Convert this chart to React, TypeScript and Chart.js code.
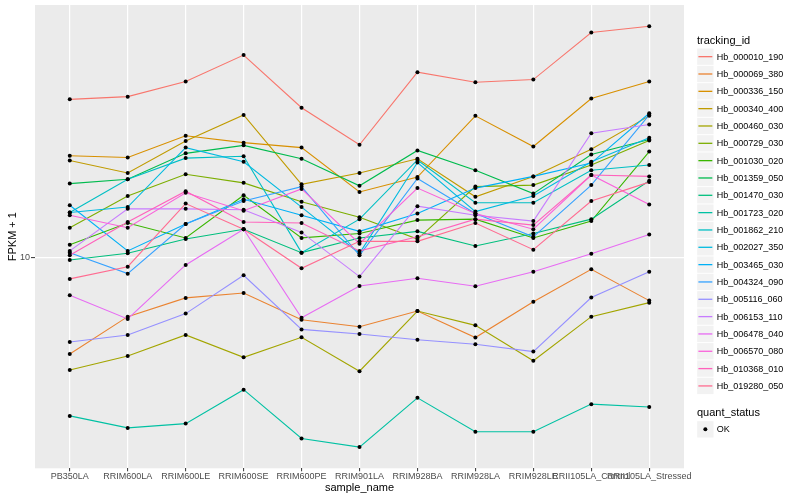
import React, { useEffect, useRef } from "react";
import { Chart, registerables } from "chart.js";

Chart.register(...registerables);

const categories = [
  "PB350LA", "RRIM600LA", "RRIM600LE", "RRIM600SE", "RRIM600PE", "RRIM901LA",
  "RRIM928BA", "RRIM928LA", "RRIM928LE", "RRII105LA_Control", "RRII105LA_Stressed",
];

const seriesNames = [
  "Hb_000010_190", "Hb_000069_380", "Hb_000336_150", "Hb_000340_400", "Hb_000460_030",
  "Hb_000729_030", "Hb_001030_020", "Hb_001359_050", "Hb_001470_030", "Hb_001723_020",
  "Hb_001862_210", "Hb_002027_350", "Hb_003465_030", "Hb_004324_090", "Hb_005116_060",
  "Hb_006153_110", "Hb_006478_040", "Hb_006570_080", "Hb_010368_010", "Hb_019280_050",
];

const seriesColors = [
  "#F8766D", "#EA8331", "#D89000", "#C09B00", "#A3A500",
  "#7CAE00", "#39B600", "#00BB4E", "#00BF7D", "#00C1A3",
  "#00BFC4", "#00BAE0", "#00B0F6", "#35A2FF", "#9590FF",
  "#C77CFF", "#E76BF3", "#FA62DB", "#FF62BC", "#FF6C91",
];

const s000010_190 = [33.6, 34.3, 38.5, 47.2, 31.5, 23.7, 41.4, 38.3, 39.1, 56.1, 58.9];
const s000069_380 = [4.76, 6.34, 7.32, 7.6, 6.19, 5.87, 6.62, 5.4, 7.11, 9.12, 7.17];
const s000336_150 = [21.8, 21.5, 25.4, 24.1, 23.2, 16.5, 18.5, 29.6, 23.4, 33.8, 38.5];
const s000340_400 = [21.0, 19.1, 24.4, 29.8, 17.5, 19.1, 21.3, 15.9, 18.6, 22.9, 29.6];
const s000460_030 = [4.21, 4.69, 5.51, 4.64, 5.41, 4.17, 6.62, 5.93, 4.52, 6.34, 7.06];
const s000729_030 = [12.55, 16.0, 18.9, 17.7, 15.3, 13.6, 11.5, 17.2, 17.4, 20.3, 24.5];
const s001030_020 = [11.0, 13.0, 11.6, 16.1, 11.6, 12.0, 13.3, 13.4, 11.6, 13.2, 22.5];
const s001359_050 = [17.6, 18.2, 22.2, 23.6, 21.3, 17.3, 22.7, 19.5, 16.3, 22.0, 24.7];
const s001470_030 = [9.79, 10.31, 11.5, 12.4, 10.36, 11.6, 12.2, 10.9, 12.0, 13.4, 18.0];
const s001723_020 = [2.96, 2.7, 2.79, 3.62, 2.49, 2.33, 3.4, 2.62, 2.62, 3.24, 3.17];
const s001862_210 = [14.1, 18.2, 21.4, 21.7, 10.36, 13.4, 21.1, 15.2, 15.2, 19.5, 20.3];
const s002027_350 = [14.1, 14.7, 23.2, 20.8, 14.7, 10.3, 20.7, 14.2, 16.0, 20.8, 25.0];
const s003465_030 = [14.9, 10.5, 12.9, 15.6, 13.8, 12.2, 14.0, 17.0, 18.6, 20.6, 30.2];
const s004324_090 = [10.36, 8.82, 12.9, 15.4, 17.2, 10.15, 18.3, 14.0, 11.7, 17.4, 29.8];
const s005116_060 = [5.22, 5.51, 6.49, 8.71, 5.75, 5.55, 5.31, 5.13, 4.85, 7.34, 8.95];
const s006153_110 = [10.5, 14.5, 14.5, 14.4, 12.1, 8.62, 14.8, 13.8, 13.2, 25.9, 27.7];
const s006478_040 = [7.47, 6.23, 9.43, 12.4, 6.29, 8.02, 8.51, 8.01, 8.95, 10.28, 11.9];
const s006570_080 = [13.8, 12.55, 16.4, 14.3, 16.9, 11.1, 17.0, 14.0, 12.4, 18.8, 15.0];
const s010368_010 = [10.15, 13.1, 16.6, 13.1, 13.0, 10.5, 11.7, 13.4, 12.8, 18.8, 18.6];
const s019280_050 = [8.47, 9.3, 15.1, 12.4, 9.19, 11.3, 11.3, 13.0, 10.6, 15.4, 17.8];

const seriesValues = [
  s000010_190, s000069_380, s000336_150, s000340_400, s000460_030,
  s000729_030, s001030_020, s001359_050, s001470_030, s001723_020,
  s001862_210, s002027_350, s003465_030, s004324_090, s005116_060,
  s006153_110, s006478_040, s006570_080, s010368_010, s019280_050,
];

const yTickValues = [10];
const yTickLabels = ["10"];
const yMin = 1.98;
const yMax = 69.3;

const FONT = "'Liberation Sans', Arial, Helvetica, sans-serif";

const panelBg = {
  id: "panelBg",
  beforeDraw(chart: any) {
    const { ctx, chartArea } = chart;
    if (!chartArea) return;
    ctx.save();
    ctx.fillStyle = "#EBEBEB";
    ctx.fillRect(chartArea.left, chartArea.top, chartArea.right - chartArea.left, chartArea.bottom - chartArea.top);
    ctx.restore();
  },
};

export default function App() {
  const canvasRef = useRef<HTMLCanvasElement | null>(null);

  useEffect(() => {
    if (!canvasRef.current) return;
    const lineSets = seriesValues.map((vals, i) => ({
      type: "line" as const,
      label: seriesNames[i],
      data: vals.map((v, j) => ({ x: j, y: v })),
      borderColor: seriesColors[i],
      backgroundColor: seriesColors[i],
      borderWidth: 1.1,
      pointRadius: 0,
      tension: 0,
      fill: false,
      order: 20 - i,
    }));
    const pointSet = {
      type: "line" as const,
      label: "OK",
      data: seriesValues.flatMap((vals) => vals.map((v, j) => ({ x: j, y: v }))),
      showLine: false,
      borderColor: "#000000",
      backgroundColor: "#000000",
      pointRadius: 2,
      pointBorderWidth: 0,
      pointStyle: "circle",
      order: 0,
    };

    const chart = new Chart(canvasRef.current, {
      type: "line",
      data: { datasets: [...lineSets, pointSet] as any },
      plugins: [panelBg],
      options: {
        animation: false,
        responsive: false,
        devicePixelRatio: 1,
        layout: { padding: { left: 0, right: 116, top: 5, bottom: 0 } },
        plugins: { legend: { display: false }, tooltip: { enabled: false } },
        scales: {
          x: {
            type: "linear",
            min: -0.6,
            max: 10.6,
            afterBuildTicks: (s: any) => {
              s.ticks = categories.map((_, i) => ({ value: i }));
            },
            afterFit: (s: any) => {
              s.height = 31.7;
              s.paddingLeft = 0;
              s.paddingRight = 0;
            },
            grid: { color: "#FFFFFF", lineWidth: 1.2, tickColor: "#333333", tickLength: 3, tickWidth: 1 },
            border: { display: false },
            ticks: {
              autoSkip: false,
              maxRotation: 0,
              minRotation: 0,
              padding: 0,
              color: "#4D4D4D",
              font: { family: FONT, size: 9 },
              callback: (v: any) => categories[Number(v)] ?? "",
            },
            title: {
              display: true,
              text: "sample_name",
              color: "#000000",
              font: { family: FONT, size: 11 },
              padding: { top: 0, bottom: 5.4 },
            },
          },
          y: {
            type: "logarithmic",
            min: yMin,
            max: yMax,
            afterBuildTicks: (s: any) => {
              s.ticks = yTickValues.map((v) => ({ value: v }));
            },
            afterFit: (s: any) => {
              s.width = 35;
              s.paddingTop = 0;
              s.paddingBottom = 0;
            },
            grid: { color: "#FFFFFF", lineWidth: 1.2, tickColor: "#333333", tickLength: 4, tickWidth: 1 },
            border: { display: false },
            ticks: {
              padding: 1,
              color: "#4D4D4D",
              font: { family: FONT, size: 9 },
              callback: (v: any) => {
                const k = yTickValues.indexOf(Number(v));
                return k >= 0 ? yTickLabels[k] : "";
              },
            },
            title: {
              display: true,
              text: "FPKM + 1",
              color: "#000000",
              font: { family: FONT, size: 11 },
              padding: { top: 6.7, bottom: 0 },
            },
          },
        },
      } as any,
    });
    return () => chart.destroy();
  }, []);

  const rowPitch = 17.33;
  const keyTop0 = 48;
  const keyLeft = 696.7;

  return (
    <div style={{ position: "absolute", left: 0, top: 0, width: 800, height: 500, background: "#FFFFFF", fontFamily: FONT }}>
      <canvas ref={canvasRef} width={800} height={500} style={{ position: "absolute", left: 0, top: 0, width: 800, height: 500 }} />
      <svg width={800} height={500} style={{ position: "absolute", left: 0, top: 0, pointerEvents: "none" }}>
        {seriesNames.map((name, i) => {
          const top = keyTop0 + i * rowPitch;
          const cy = top + rowPitch / 2;
          return (
            <g key={name}>
              <rect x={keyLeft + 0.5} y={top + 0.5} width={rowPitch - 1} height={rowPitch - 1} fill="#F2F2F2" />
              <line x1={keyLeft + 1.7} x2={keyLeft + rowPitch - 1.7} y1={cy} y2={cy} stroke={seriesColors[i]} strokeWidth={1.3} />
            </g>
          );
        })}
        <rect x={keyLeft + 0.5} y={420.7 + 0.5} width={rowPitch - 1} height={rowPitch - 1} fill="#F2F2F2" />
        <circle cx={keyLeft + rowPitch / 2} cy={420.7 + rowPitch / 2} r={2} fill="#000000" />
      </svg>
      <div style={{ position: "absolute", left: 697, top: 34.2, fontSize: 11, lineHeight: "13px", color: "#000" }}>tracking_id</div>
      {seriesNames.map((name, i) => {
        const top = keyTop0 + i * rowPitch;
        return (
          <div key={name} style={{ position: "absolute", left: 716.7, top: top + rowPitch / 2 - 6, fontSize: 9, lineHeight: "12px", color: "#000", whiteSpace: "nowrap" }}>{name}</div>
        );
      })}
      <div style={{ position: "absolute", left: 697, top: 405.8, fontSize: 11, lineHeight: "13px", color: "#000" }}>quant_status</div>
      <div style={{ position: "absolute", left: 716.7, top: 420.7 + rowPitch / 2 - 6, fontSize: 9, lineHeight: "12px", color: "#000" }}>OK</div>
    </div>
  );
}
